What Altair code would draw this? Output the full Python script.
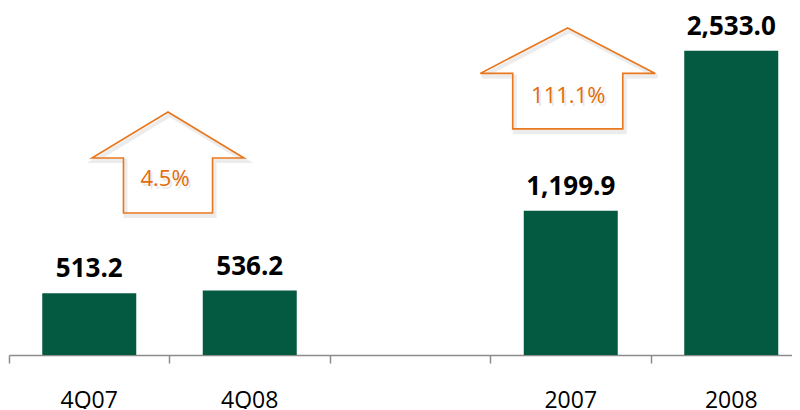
import altair as alt
import pandas as pd

# ---- data -------------------------------------------------------------
categories = ["4Q07", "4Q08", " ", "2007", "2008"]
bar_categories = ["4Q07", "4Q08", "2007", "2008"]
bar_values = [513.2, 536.2, 1199.9, 2533.0]
value_labels = ["513.2", "536.2", "1,199.9", "2,533.0"]
growth_labels = ["4.5%", "111.1%"]
growth_anchor = ["4Q07", "2007"]

# ---- styles -----------------------------------------------------------
GREEN = "#045A40"
ORANGE = "#E8771E"
ORANGE_TXT = "#E46C0A"
GREY = "#8C8C8C"
FONT = "Open Sans"

# up-arrow outlines (normalised symbol paths)
ARROW1 = "M0,-0.664 L1,-0.059 L0.586,-0.059 L0.586,0.664 L-0.586,0.664 L-0.586,-0.059 L-1,-0.059 Z"
ARROW2 = "M0,-0.577 L1,-0.057 L0.629,-0.057 L0.629,0.577 L-0.629,0.577 L-0.629,-0.057 L-1,-0.057 Z"

bars_df = pd.DataFrame({"cat": bar_categories, "value": bar_values, "label": value_labels})
g1_df = pd.DataFrame({"cat": [growth_anchor[0]], "label": [growth_labels[0]]})
g2_df = pd.DataFrame({"cat": [growth_anchor[1]], "label": [growth_labels[1]]})

x_scale = alt.Scale(domain=categories, paddingInner=0, paddingOuter=0)
y_scale = alt.Scale(domain=[0, 2888], nice=False, zero=True)

x_axis = alt.Axis(
    title=None, bandPosition=0,
    domainColor=GREY, domainWidth=1.5, tickColor=GREY, tickWidth=1.5, tickSize=8,
    labelFont=FONT, labelFontSize=23, labelColor="#000000",
    labelBaseline="alphabetic", labelPadding=44, labelAngle=0, grid=False,
)

X = alt.X("cat:N", scale=x_scale, axis=x_axis)
Y = alt.Y("value:Q", scale=y_scale, axis=None)

bars = alt.Chart(bars_df).mark_bar(width=94, color=GREEN).encode(x=X, y=Y)
labels = alt.Chart(bars_df).mark_text(
    font=FONT, fontSize=26, fontWeight="bold", color="#000000",
    baseline="alphabetic", dy=-16,
).encode(x=X, y=Y, text="label:N")

Y1 = alt.datum(1602)
Y2 = alt.datum(2302)
X1 = alt.X("cat:N", scale=x_scale, axis=x_axis, bandPosition=1)
X2 = alt.X("cat:N", scale=x_scale, axis=x_axis)

def arrow_layers(df, xenc, yval, path, size, xoff, tdx, tdy):
    shadow = alt.Chart(df).mark_point(
        shape=path, size=size, filled=False, stroke="#000000", strokeWidth=4,
        opacity=0.07, xOffset=xoff + 2, yOffset=3,
    ).encode(x=xenc, y=yval)
    arrow = alt.Chart(df).mark_point(
        shape=path, size=size, filled=False, stroke=ORANGE, strokeWidth=1.6,
        opacity=1, xOffset=xoff,
    ).encode(x=xenc, y=yval)
    tshadow = alt.Chart(df).mark_text(
        font=FONT, fontSize=22, color="#000000", opacity=0.08,
        baseline="alphabetic", dx=tdx + 2, dy=tdy + 3,
    ).encode(x=xenc, y=yval, text="label:N")
    text = alt.Chart(df).mark_text(
        font=FONT, fontSize=22, color=ORANGE_TXT,
        baseline="alphabetic", dx=tdx, dy=tdy,
    ).encode(x=xenc, y=yval, text="label:N")
    return [shadow, arrow, tshadow, text]

layers = [bars, labels]
layers += arrow_layers(g1_df, X1, Y1, ARROW1, 152 ** 2, -1.5, -4.5, 23.5)
layers += arrow_layers(g2_df, X2, Y2, ARROW2, 175 ** 2, -3, -2.5, 24.5)

chart = alt.layer(*layers).properties(
    width=802.5, height=347,
    autosize=alt.AutoSizeParams(type="none"),
    padding={"left": 1, "top": 0, "right": -19.5, "bottom": 54},
).configure_view(stroke=None)

chart.save("out.html", embed_options={"renderer": "svg", "actions": False})
